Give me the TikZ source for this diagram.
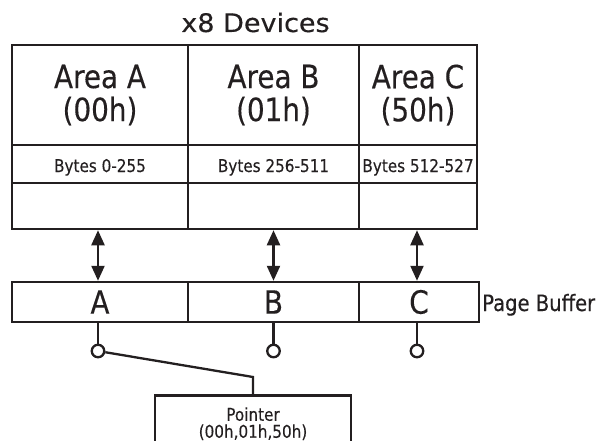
\documentclass[tikz,border=0pt]{standalone}
\usepackage{fontspec}
\setmainfont{DejaVu Sans}[FakeStretch=0.87,FakeBold=0.3]
\newfontfamily\titlefont{DejaVu Sans}[FakeStretch=1.06,FakeBold=0.3]
\usetikzlibrary{arrows.meta}
\definecolor{ink}{RGB}{35,31,32}
\begin{document}
\begin{tikzpicture}[x=1pt,y=-1pt, color=ink, text=ink,
  box/.style={draw, line width=2.5pt, inner sep=0pt, align=center},
  biarrow/.style={line width=2.3pt, {Triangle[width=13pt,length=15pt]}-{Triangle[width=13pt,length=15pt]}},
  wire/.style={line width=2.3pt},
  pin/.style={circle, draw, line width=2.3pt, minimum size=12.5pt, inner sep=0pt, fill=white},
  big/.style={font=\fontsize{32}{33}\selectfont},
  small/.style={font=\fontsize{17.5}{16}\selectfont, text height=16pt, text depth=0pt},
  ptrtext/.style={font=\fontsize{17.5}{17}\selectfont}]
\useasboundingbox (0,0) rectangle (599,441);
% title
\node[anchor=base, inner sep=0pt, font=\titlefont\fontsize{25.5}{28}\selectfont] (title) at (255.5,32) {x8 Devices};
% row 1
\node[box, big, minimum width=176pt, minimum height=100pt] (a1) at (100,95) {Area A\\(00h)};
\node[box, big, minimum width=171pt, minimum height=100pt] (b1) at (273.5,95) {Area B\\(01h)};
\node[box, big, minimum width=118pt, minimum height=100pt] (c1) at (418,95) {Area C\\(50h)};
% row 2
\node[box, small, minimum width=176pt, minimum height=38pt] (a2) at (100,164) {Bytes 0-255};
\node[box, small, minimum width=171pt, minimum height=38pt] (b2) at (273.5,164) {Bytes 256-511};
\node[box, small, minimum width=118pt, minimum height=38pt] (c2) at (418,164) {Bytes 512-527};
% row 3
\node[box, minimum width=176pt, minimum height=46pt] (a3) at (100,206) {};
\node[box, minimum width=171pt, minimum height=46pt] (b3) at (273.5,206) {};
\node[box, minimum width=118pt, minimum height=46pt] (c3) at (418,206) {};
% page buffer
\node[box, big, minimum width=176pt, minimum height=40pt] (ba) at (100,302) {A};
\node[box, big, minimum width=171pt, minimum height=40pt] (bb) at (273.5,302) {B};
\node[box, big, minimum width=120pt, minimum height=40pt] (bc) at (419,302) {C};
\node[anchor=base west, inner sep=0pt, font=\fontsize{22.5}{24}\selectfont] (pb) at (482,311) {Page Buffer};
% arrows
\draw[biarrow] ([xshift=-2pt]a3.south) -- ([xshift=-2pt]ba.north);
\draw[biarrow] (b3.south) -- (bb.north);
\draw[biarrow] ([xshift=-1pt]c3.south) -- ([xshift=-1pt]c3.south |- bc.north);
% pins
\node[pin] (pa) at (98,351) {};
\node[pin] (pbn) at (273.5,351) {};
\node[pin] (pc) at (417,351) {};
\draw[wire] (ba.south -| pa) -- (pa);
\draw[wire] (bb.south -| pbn) -- (pbn);
\draw[wire] (bc.south -| pc) -- (pc);
% pointer
\node[box, ptrtext, minimum width=196pt, minimum height=57pt, anchor=north] (ptr) at (253,394) {Pointer\\(00h,01h,50h)};
\coordinate (bend) at (253,377);
\draw[wire] (pa) -- (bend) -- (ptr.north);
\end{tikzpicture}
\end{document}
